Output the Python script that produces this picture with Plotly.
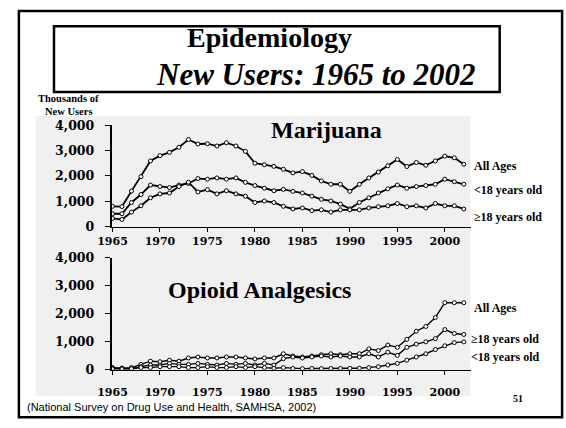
import plotly.graph_objects as go

years = list(range(1965, 2003))

# Marijuana, new users (thousands)
marijuana_all = [800, 790, 1400, 1970, 2590, 2800, 2930, 3130, 3435, 3260,
                 3270, 3180, 3310, 3180, 2970, 2500, 2440, 2375, 2260,
                 2120, 2170, 2020, 1800, 1670, 1670, 1390, 1670, 1920, 2150,
                 2400, 2650, 2370, 2530, 2420, 2590, 2780, 2715, 2460]
marijuana_under18 = [505, 505, 950, 1265, 1640, 1580, 1540, 1640, 1700, 1895,
                     1870, 1920, 1870, 1920, 1745, 1620, 1515, 1415, 1470,
                     1390, 1325, 1200, 1075, 1010, 885, 700, 950, 1135, 1325,
                     1490, 1640, 1515, 1580, 1620, 1670, 1870, 1770, 1670]
marijuana_18plus = [320, 280, 570, 820, 1135, 1290, 1325, 1580, 1750, 1365,
                    1455, 1290, 1415, 1290, 1200, 950, 1010, 950, 800,
                    695, 735, 630, 660, 570, 660, 660, 660, 735, 785,
                    820, 910, 785, 820, 735, 910, 820, 820, 695]

# Opioid analgesics, new users (thousands)
opioid_all = [80, 60, 80, 195, 310, 290, 345, 310, 425, 460,
              425, 425, 460, 460, 425, 390, 425, 425, 575,
              495, 460, 495, 540, 575, 540, 575, 575, 750, 690,
              885, 805, 1090, 1380, 1550, 1870, 2400, 2400, 2400]
opioid_18plus = [60, 60, 40, 115, 172, 172, 230, 195, 195, 230,
                 195, 172, 230, 195, 230, 172, 230, 172, 400,
                 460, 425, 460, 495, 460, 495, 460, 460, 575, 460,
                 630, 517, 805, 920, 1000, 1115, 1440, 1300, 1265]
opioid_under18 = [30, 30, 40, 80, 80, 115, 115, 115, 80, 80,
                  115, 80, 80, 115, 80, 115, 80, 60, 80,
                  50, 45, 50, 45, 50, 50, 55, 60, 80, 115,
                  172, 230, 345, 460, 575, 725, 860, 975, 1000]

year_ticks = [1965, 1970, 1975, 1980, 1985, 1990, 1995, 2000]
value_ticks = [0, 1000, 2000, 3000, 4000]
value_tick_labels = ["0", "1,000", "2,000", "3,000", "4,000"]

W, H = 566, 428
SERIF = "Liberation Serif, Times New Roman, serif"


def px(x):
    return x / W


def py(y):
    return 1 - y / H


def series(x, y, xa, ya, lw):
    return go.Scatter(
        x=x, y=y, xaxis=xa, yaxis=ya, mode="lines+markers",
        line=dict(color="black", width=lw),
        marker=dict(symbol="circle", size=4, color="white",
                    line=dict(color="black", width=1)),
        showlegend=False, hoverinfo="skip")


fig = go.Figure()
for s in (marijuana_all, marijuana_under18, marijuana_18plus):
    fig.add_trace(series(years, s, "x", "y", 1.8))
for s in (opioid_all, opioid_18plus, opioid_under18):
    fig.add_trace(series(years, s, "x2", "y2", 1.4))

tick_font_x = dict(family="DejaVu Serif", size=11, color="black", weight="bold")
tick_font_y = dict(family="DejaVu Serif", size=12.5, color="black", weight="bold")

xcommon = dict(range=[1964.9, 2002.8], tickvals=year_ticks,
               ticktext=[str(v) for v in year_ticks],
               showline=True, linecolor="black", linewidth=1.2,
               ticks="outside", ticklen=4, tickcolor="black",
               showgrid=False, zeroline=False, tickfont=tick_font_x,
               domain=[px(100), px(469)])
ycommon = dict(range=[0, 4000], tickvals=value_ticks, ticktext=value_tick_labels,
               showline=True, linecolor="black", linewidth=1.5,
               ticks="outside", ticklen=5, tickcolor="black",
               showgrid=False, zeroline=False, tickfont=tick_font_y,
               ticklabelstandoff=8)

fig.update_layout(
    width=W, height=H,
    margin=dict(l=0, r=0, t=0, b=0),
    paper_bgcolor="white", plot_bgcolor="rgba(0,0,0,0)",
    xaxis=dict(xcommon, anchor="y", ticklabelstandoff=0),
    yaxis=dict(ycommon, anchor="x", domain=[py(226.5), py(121.5)]),
    xaxis2=dict(xcommon, anchor="y2", ticklabelstandoff=8),
    yaxis2=dict(ycommon, anchor="x2", domain=[py(375), py(259)]),
)

shapes = [
    # stippled panel behind both charts
    dict(type="rect", xref="paper", yref="paper", layer="below",
         x0=px(22), x1=px(468), y0=py(402), y1=py(112),
         fillcolor="#f0f0f0", line=dict(width=0)),
    # slide frame
    dict(type="rect", xref="paper", yref="paper",
         x0=px(5), x1=px(562), y0=py(424), y1=py(3),
         line=dict(color="black", width=2.5)),
    # title box
    dict(type="rect", xref="paper", yref="paper",
         x0=px(41), x1=px(498), y0=py(87), y1=py(19),
         line=dict(color="black", width=2.5)),
]
fig.update_layout(shapes=shapes)


def text(s, x, y, size, family=SERIF, xanchor="left",
         weight="bold", style="normal", color="black"):
    fig.add_annotation(text=s, xref="paper", yref="paper", x=px(x), y=py(y),
                       xanchor=xanchor, yanchor="middle", showarrow=False,
                       borderpad=0,
                       font=dict(family=family, size=size, color=color,
                                 weight=weight, style=style))


text("Epidemiology", 262, 31, 28, xanchor="center")
text("New Users: 1965 to 2002", 310, 69, 31, xanchor="center", style="italic")
text("Thousands of", 56, 94, 10.5, xanchor="center")
text("New Users", 56, 107, 10.5, xanchor="center")
text("Marijuana", 320, 126, 24, xanchor="center")
text("Opioid Analgesics", 252, 292, 24, xanchor="center")

text("All Ages", 471, 164, 12)
text("<18 years old", 471, 189, 12)
text("≥18 years old", 471, 217, 12)
text("All Ages", 471, 311, 12)
text("≥18 years old", 468, 343, 12)
text("<18 years old", 468, 362, 12)

text("51", 511, 405, 10)
text("(National Survey on Drug Use and Health, SAMHSA, 2002)", 12, 414, 11,
     family="Liberation Sans, Arial, sans-serif", weight="normal")

fig.write_html("out.html")
